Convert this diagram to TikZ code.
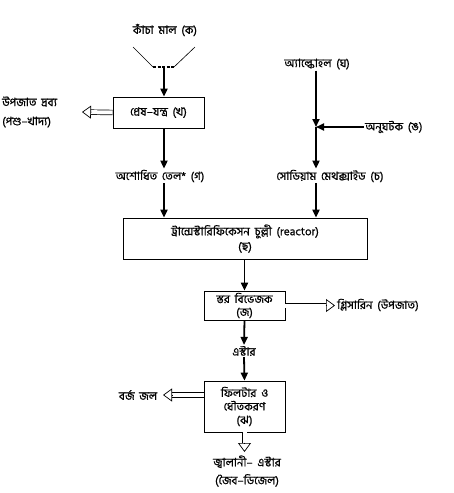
\documentclass[tikz,border=0pt]{standalone}
\usepackage{fontspec}
\setmainfont[Script=Bengali,WordSpace=1.8,FakeBold=0.7]{Hind Siliguri}
\usetikzlibrary{arrows.meta,calc}
\tikzset{
  arr/.style={line width=1.8pt,-{Triangle[length=8pt,width=7pt]}},
  box/.style={draw,line width=0.7pt,inner sep=0pt,align=center},
  txt/.style={inner sep=1pt,font=\fontsize{11.5}{13}\selectfont},
  hline/.style={double,double distance=4pt,line width=0.7pt},
  htip/.style={line width=0.7pt,-{Triangle[open,length=9pt,width=13pt]}}
}
\newcommand\hollowarrow[2]{%
  \draw[hline,shorten >=8.6pt] (#1) -- (#2);
  \draw[htip] ($(#2)!9.4pt!(#1)$) -- (#2);
}
\begin{document}
\begin{tikzpicture}[x=1pt,y=-1pt]
\useasboundingbox (0,0) rectangle (453,493);
% raw material
\node[txt] (raw) at (165,30) {কাঁচা মাল (ক)};
\coordinate (fl1) at (133,47);
\coordinate (fl2) at (153,67);
\coordinate (fr1) at (195,47);
\coordinate (fr2) at (174,67);
\coordinate (fm) at (164,67);
\draw[line width=0.6pt] (fl1) -- (fl2);
\draw[line width=0.6pt] (fr1) -- (fr2);
\draw[line width=1.3pt,dash pattern=on 3pt off 1.5pt] (fl2) -- (fr2);
% press
\node[box,minimum width=91,minimum height=31,font=\fontsize{11.5}{13}\selectfont] (kh) at (158.5,112.5) {প্রেষ–যন্ত্র (খ)};
\draw[arr] (fm) -- (fm |- kh.north);
\node[txt,anchor=west,align=left,font=\fontsize{11.5}{19}\selectfont] (byp) at (1,112) {উপজাত দ্রব্য\\(পশু–খাদ্য)};
\coordinate (byptip) at (82,112);
\hollowarrow{kh.west}{byptip}
% crude oil
\node[txt] (oil) at (160,176) {অশোধিত তেল* (গ)};
\draw[arr] (kh.south -| fm) -- (fm |- oil.north);
% alcohol
\node[txt] (alc) at (317,64) {অ্যাল্কোহল (ঘ)};
\coordinate (jn) at (316,127);
\node[txt,anchor=west] (cat) at (364,127) {অনুঘটক (ঙ)};
\node[txt] (sod) at (330,176) {সোডিয়াম মেথক্সাইড (চ)};
\draw[arr] (alc.south -| jn) -- (jn);
\draw[arr] (jn) -- (jn |- sod.north);
\draw[arr] (cat.west) -- (jn);
% reactor
\node[box,minimum width=244,minimum height=41,font=\fontsize{11.5}{15}\selectfont] (re) at (245,238.5) {ট্রান্সেস্টারিফিকেসন চুল্লী (reactor)\\(ছ)};
\draw[arr] (oil.south -| fm) -- (fm |- re.north);
\draw[arr] (sod.south -| jn) -- (jn |- re.north);
% separator
\node[box,minimum width=81,minimum height=29,font=\fontsize{11.5}{13}\selectfont] (j) at (244.5,305.5) {স্তর বিভেজক\\(জ)};
\draw[arr] (re.south -| j.north) -- (j.north);
\coordinate (glytip) at (335,305.5);
\hollowarrow{j.east}{glytip}
\node[txt,anchor=west] (gly) at (336,305) {গ্লিসারিন (উপজাত)};
% ester
\node[txt] (est) at (244,351) {এস্টার};
\draw[arr] (j.south) -- (est.north);
% filter
\node[box,minimum width=81,minimum height=51,font=\fontsize{11.5}{13.5}\selectfont] (jh) at (244.5,406.5) {ফিলটার ও\\ধৌতকরণ\\(ঝ)};
\draw[arr] (est.south) -- (jh.north);
\coordinate (wwtip) at (163,395);
\coordinate (wwstart) at (jh.west |- wwtip);
\hollowarrow{wwstart}{wwtip}
\node[txt] (ww) at (138,395) {বর্জ জল};
\coordinate (fueltip) at (244.5,452);
\hollowarrow{jh.south}{fueltip}
\node[txt,align=center,font=\fontsize{11.5}{18}\selectfont] (fuel) at (247,471) {জ্বালানী– এস্টার\\(জৈব–ডিজেল)};
\end{tikzpicture}
\end{document}
